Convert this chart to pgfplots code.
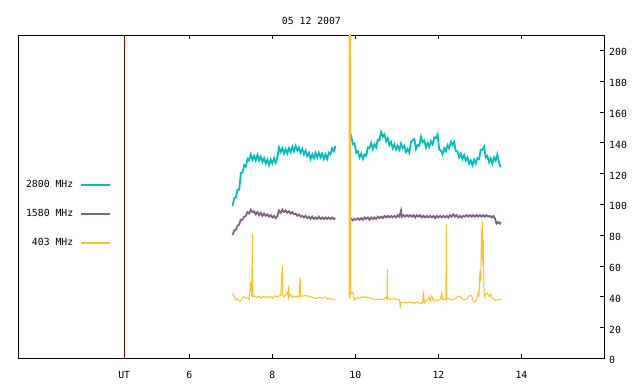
\documentclass[border=0pt]{standalone}
\usepackage{pgfplots}
\pgfplotsset{compat=1.18}
\usepackage{fontspec}
\setmainfont{DejaVu Sans Mono}
\definecolor{ccyan}{HTML}{00BFBF}
\definecolor{cpurple}{HTML}{806080}
\definecolor{corange}{HTML}{FFC020}
\definecolor{cred}{HTML}{990000}
\begin{document}
\begin{tikzpicture}
\path[use as bounding box] (0,0) rectangle (640bp,384bp);
\begin{axis}[
 at={(18.4bp,25.7bp)}, anchor=south west, scale only axis,
 width=586bp, height=323.3bp,
 xmin=1.88, xmax=16.0, ymin=0, ymax=210,
 axis line style={line width=0.8bp},
 xtick={6,8,10,12,14}, ytick={0,20,...,200},
 xtick pos=both, ytick pos=right, tick align=inside, major tick length=4bp,
 tick style={black, line width=0.8bp},
 extra x ticks={4.43}, extra x tick labels={UT}, extra x tick style={major tick length=0pt},
 font=\fontsize{9.8bp}{11bp}\selectfont,
 /pgf/number format/assume math mode=true,
 xticklabel style={inner sep=0pt, anchor=north, yshift=-12.7bp},
 yticklabel style={inner sep=0pt, anchor=west, xshift=4.6bp, yshift=-2bp},
 title={05 12 2007},
 title style={at={(0.5,1)}, anchor=center, yshift=7.6bp, inner sep=0pt},
 legend plot pos=right,
 legend cell align=right,
 legend image code/.code={\draw[#1, line width=1.5bp] (0bp,0bp) -- (28.7bp,0bp);},
 legend style={draw=none, fill=none, at={(0.1575,0.4470)}, anchor=east, inner sep=0pt,
   row sep=20.2bp, column sep=7bp, nodes={inner sep=0pt}},
]
\addplot[color=cred, line width=1bp, forget plot] coordinates {(4.43,0) (4.43,210)};
% 2800 MHz
\addplot[color=ccyan, line width=1.8bp] coordinates {
(7.04,99) (7.08,104) (7.12,104.5) (7.16,109.5) (7.20,109.5) (7.24,120.5) (7.28,120.5) (7.32,125.5)
(7.36,124.5) (7.40,129.5) (7.44,128.5) (7.48,132.5) (7.52,129) (7.56,131.5) (7.60,128.5) (7.64,132)
(7.68,128.5) (7.72,131) (7.76,127.5) (7.80,130) (7.84,126.5) (7.88,129) (7.92,125.5) (7.96,129)
(8.00,126.5) (8.04,130) (8.08,127) (8.12,130.5) (8.16,137) (8.20,134) (8.24,136.5) (8.28,133)
(8.32,136) (8.36,133) (8.40,136.5) (8.44,134) (8.48,137.5) (8.52,134.5) (8.56,138) (8.60,135)
(8.64,137) (8.68,133.5) (8.72,136) (8.76,132.5) (8.80,135) (8.84,131.5) (8.88,133.5) (8.92,129.5)
(8.96,132.5) (9.00,130) (9.04,133.5) (9.08,130.5) (9.12,133.5) (9.16,130.5) (9.20,133) (9.24,129.5)
(9.28,132.5) (9.32,129.5) (9.36,133.5) (9.40,132.5) (9.44,136.5) (9.48,134.5) (9.52,138)
};
\addlegendentry{2800 MHz}
\addplot[color=ccyan, line width=1.8bp, forget plot] coordinates {
(9.86,147) (9.90,144.5) (9.94,139) (9.98,139.5) (10.02,133.5) (10.06,134.5) (10.10,130.5) (10.14,133)
(10.18,129.5) (10.22,132.5) (10.26,131.5) (10.30,137) (10.34,136.5) (10.38,140) (10.42,136) (10.46,139)
(10.50,137) (10.54,142) (10.58,141.5) (10.62,147) (10.66,144) (10.70,145.5) (10.74,141) (10.78,143)
(10.82,138.5) (10.86,140.5) (10.90,136.5) (10.94,139) (10.98,135.5) (11.02,138) (11.06,135.5) (11.10,139.5)
(11.14,136.5) (11.18,138) (11.22,134) (11.26,136) (11.30,133.5) (11.34,140.5) (11.38,141.5) (11.42,142.5)
(11.46,136) (11.50,138.5) (11.54,138) (11.58,144) (11.62,140.5) (11.66,141.5) (11.70,137) (11.74,140)
(11.78,137.5) (11.82,141) (11.86,139) (11.90,143.5) (11.94,143) (11.98,145.5) (12.02,135.5) (12.06,135)
(12.10,132.5) (12.14,136.5) (12.18,134.5) (12.22,138.5) (12.26,136.5) (12.30,140.5) (12.34,138.5) (12.38,140.5)
(12.42,134.5) (12.46,134.5) (12.50,130.5) (12.54,133) (12.58,129.5) (12.62,132) (12.66,128.5) (12.70,130.5)
(12.74,126.5) (12.78,128.5) (12.82,125.5) (12.86,129) (12.90,126.5) (12.94,130) (12.98,129.5) (13.02,135.5)
(13.06,135.5) (13.10,137.5) (13.14,130.5) (13.18,131.5) (13.22,127.5) (13.26,130) (13.30,126.5) (13.34,130.5)
(13.38,128.5) (13.42,132.5) (13.46,127.5) (13.50,124)
};
% 1580 MHz
\addplot[color=cpurple, line width=1.8bp] coordinates {
(7.04,80) (7.08,83) (7.12,83.5) (7.16,86) (7.20,87) (7.24,90) (7.28,90) (7.32,92)
(7.36,92.5) (7.40,95) (7.44,94) (7.48,96.5) (7.52,95) (7.56,95.5) (7.60,93.5) (7.64,95)
(7.68,93) (7.72,94.5) (7.76,92.5) (7.80,94) (7.84,92.5) (7.88,93.5) (7.92,92) (7.96,93)
(8.00,91.5) (8.04,92.5) (8.08,91) (8.12,92.5) (8.16,96) (8.20,94.5) (8.24,96.5) (8.28,95)
(8.32,96) (8.36,94.5) (8.40,95.5) (8.44,94) (8.48,95) (8.52,93.5) (8.56,94) (8.60,92.5)
(8.64,93.5) (8.68,92) (8.72,92.5) (8.76,91.5) (8.80,92.5) (8.84,91) (8.88,92) (8.92,90.5)
(8.96,92) (9.00,90.5) (9.04,91.5) (9.08,90.5) (9.12,92) (9.16,90.5) (9.20,91.5) (9.24,90.5)
(9.28,91.5) (9.32,90.5) (9.36,91.5) (9.40,90.5) (9.44,91.5) (9.48,90.5) (9.52,91)
};
\addlegendentry{1580 MHz}
\addplot[color=cpurple, line width=1.8bp, forget plot] coordinates {
(9.86,89.5) (9.90,90.5) (9.94,89.5) (9.98,90.5) (10.02,90) (10.06,91) (10.10,90) (10.14,91)
(10.18,90) (10.22,91.5) (10.26,90.5) (10.30,91.5) (10.34,90) (10.38,91.5) (10.42,90.5) (10.46,91.5)
(10.50,90.5) (10.54,92) (10.58,91) (10.62,92) (10.66,91) (10.70,92.5) (10.74,91.5) (10.78,92.5)
(10.82,91.5) (10.86,92.5) (10.90,91.5) (10.94,92.5) (10.98,91.5) (11.02,93) (11.06,92) (11.10,96)
(11.12,92) (11.16,93) (11.20,92) (11.24,93) (11.28,92) (11.32,93) (11.36,92) (11.40,93)
(11.44,91.5) (11.48,93) (11.52,92) (11.56,93) (11.60,91.5) (11.64,92.5) (11.68,91.5) (11.72,92.5)
(11.76,91.5) (11.80,92.5) (11.84,91.5) (11.88,92.5) (11.92,91) (11.96,92.5) (12.00,91.5) (12.04,92.5)
(12.08,91.5) (12.12,92.5) (12.16,91.5) (12.20,92.5) (12.24,91.5) (12.28,93) (12.32,92) (12.36,93.5)
(12.40,92) (12.44,93) (12.48,91.5) (12.52,92.5) (12.56,91.5) (12.60,92.5) (12.64,92) (12.68,93)
(12.72,92) (12.76,93) (12.80,92) (12.84,93) (12.88,92) (12.92,93) (12.96,92) (13.00,93)
(13.04,92) (13.08,93) (13.12,92) (13.16,93) (13.20,92) (13.24,92.5) (13.28,91.5) (13.32,92.5)
(13.36,91) (13.40,87.5) (13.44,88.5) (13.48,87.5) (13.50,88.5)
};
% 403 MHz
\addplot[color=corange, line width=1bp] coordinates {
(7.04,42.5) (7.08,40) (7.12,38) (7.16,38.5) (7.20,37) (7.24,37.5) (7.28,39.5) (7.32,40)
(7.36,39) (7.40,39.5) (7.44,38) (7.46,45) (7.47,50) (7.48,44) (7.49,49) (7.50,40)
(7.52,81) (7.53,40) (7.56,40.5) (7.60,40) (7.64,39.5) (7.68,40.5) (7.72,39) (7.76,40)
(7.80,40) (7.84,39.5) (7.88,40.5) (7.92,39.5) (7.96,40) (8.00,39) (8.04,40) (8.08,40.5)
(8.12,40) (8.16,40.5) (8.20,41) (8.24,60) (8.25,40.5) (8.28,40) (8.32,41) (8.36,43)
(8.38,40) (8.39,47) (8.40,40) (8.44,41.5) (8.48,39.5) (8.52,40.5) (8.56,40) (8.60,40)
(8.64,40) (8.67,52.5) (8.68,40) (8.72,40.5) (8.76,40.5) (8.80,41) (8.84,40.5) (8.88,40)
(8.92,40) (8.96,39.5) (9.00,39.5) (9.04,39) (9.08,39) (9.12,39.5) (9.16,39.5) (9.20,39)
(9.24,39.5) (9.28,39.5) (9.32,38.5) (9.36,39) (9.40,38.5) (9.44,38.5) (9.48,38) (9.52,38)
};
\addlegendentry{403 MHz}
\addplot[color=corange, line width=1bp, forget plot] coordinates {
(9.85,39) (9.855,600) (9.86,39) (9.865,600) (9.87,39) (9.875,600) (9.88,300) (9.885,42) (9.90,42) (9.94,43) (9.98,38)
(10.02,39) (10.06,39.5) (10.10,39) (10.14,39.5) (10.18,40) (10.22,39.5) (10.26,40) (10.30,39)
(10.34,39.5) (10.38,39) (10.42,38.5) (10.46,38) (10.50,38) (10.54,38.5) (10.58,38) (10.62,38.5)
(10.66,38) (10.70,39) (10.74,39.5) (10.76,38.5) (10.77,58) (10.78,38.5) (10.82,39) (10.86,38.5)
(10.90,38.5) (10.94,39) (10.98,38) (11.02,38.5) (11.06,38) (11.08,33.5) (11.10,36.5) (11.14,36.5)
(11.18,36) (11.22,36.5) (11.26,36) (11.30,36.5) (11.34,36) (11.38,36.5) (11.42,35.5) (11.46,36.5)
(11.50,36.5) (11.54,36) (11.58,35.5) (11.62,36) (11.64,43.5) (11.66,36) (11.70,37) (11.74,38)
(11.78,40) (11.80,37) (11.84,40.5) (11.88,37.5) (11.92,38) (11.96,37.5) (12.00,38) (12.04,38)
(12.08,42.5) (12.10,38) (12.14,38.5) (12.18,38) (12.19,87) (12.20,38.5) (12.24,39) (12.28,38)
(12.32,38.5) (12.36,38) (12.40,39) (12.44,39.5) (12.48,40.5) (12.52,40) (12.56,39) (12.60,38)
(12.64,38) (12.68,38.5) (12.72,39.5) (12.76,41) (12.80,40.5) (12.84,37) (12.88,36.5) (12.92,38)
(12.96,43) (12.98,41) (13.00,57) (13.02,50) (13.04,84) (13.05,65) (13.06,89) (13.07,60)
(13.08,77) (13.09,55) (13.10,44) (13.12,40) (13.14,41.5) (13.18,42.5) (13.22,40) (13.26,41.5)
(13.30,39) (13.34,38.5) (13.38,37.5) (13.42,38) (13.46,38) (13.50,38.5)
};
\end{axis}
\end{tikzpicture}
\end{document}
